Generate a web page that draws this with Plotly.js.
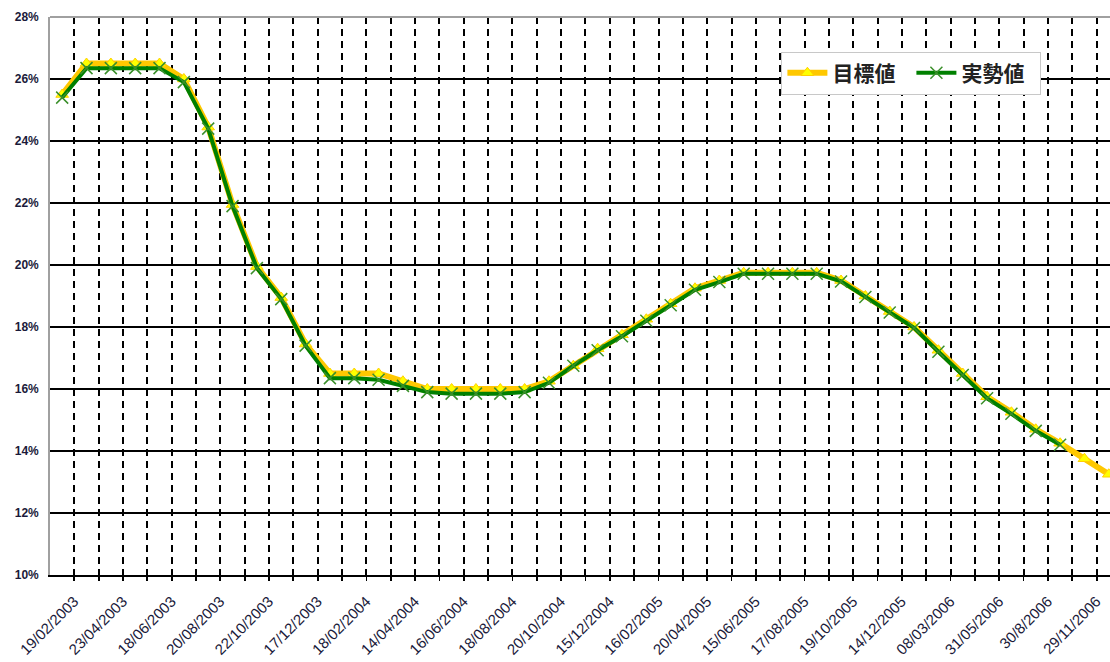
<!DOCTYPE html>
<html>
<head>
<meta charset="utf-8">
<script src="https://cdn.plot.ly/plotly-3.0.1.min.js"></script>
<style>
html, body { margin: 0; padding: 0; overflow: hidden; background: #fff; }
#chart { width: 1110px; height: 662px; }
</style>
</head>
<body>
<div id="chart"></div>
<script>
// Category labels (every other period is labelled)
var tickLabels = ["19/02/2003", "23/04/2003", "18/06/2003", "20/08/2003", "22/10/2003", "17/12/2003",
  "18/02/2004", "14/04/2004", "16/06/2004", "18/08/2004", "20/10/2004", "15/12/2004",
  "16/02/2005", "20/04/2005", "15/06/2005", "17/08/2005", "19/10/2005", "14/12/2005",
  "08/03/2006", "31/05/2006", "30/8/2006", "29/11/2006"];

// 目標値 (target), percent
var targetValues = [25.5, 26.5, 26.5, 26.5, 26.5, 26.0, 24.45, 21.95, 19.95, 18.95,
  17.45, 16.5, 16.5, 16.5, 16.25, 16.0, 16.0, 16.0, 16.0, 16.0,
  16.25, 16.75, 17.3, 17.75, 18.25, 18.75, 19.25, 19.5, 19.75, 19.75,
  19.75, 19.75, 19.5, 19.0, 18.5, 18.0, 17.25, 16.5, 15.75, 15.25,
  14.7, 14.25, 13.75, 13.25];

// 実勢値 (actual), percent
var actualValues = [25.4, 26.35, 26.35, 26.35, 26.35, 25.9, 24.4, 21.9, 19.9, 18.9,
  17.4, 16.35, 16.35, 16.3, 16.1, 15.9, 15.85, 15.85, 15.85, 15.9,
  16.2, 16.75, 17.25, 17.7, 18.2, 18.7, 19.2, 19.45, 19.72, 19.72,
  19.72, 19.72, 19.47, 18.97, 18.47, 17.97, 17.2, 16.45, 15.7, 15.2,
  14.65, 14.2];

var seriesNames = ["目標値", "実勢値"];

var xT = targetValues.map(function (v, i) { return i; });
var xA = actualValues.map(function (v, i) { return i; });
var tickPos = tickLabels.map(function (t, i) { return i * 2; });
var boundaries = targetValues.map(function (v, i) { return i + 0.5; });

var traces = [
  {
    x: xT, y: targetValues, name: seriesNames[0], type: "scatter", mode: "lines+markers",
    line: { color: "#FFC800", width: 6 },
    marker: { symbol: "triangle-up", size: 11, color: "#FFFF00", line: { color: "#FFD000", width: 1 } }
  },
  {
    x: xA, y: actualValues, name: seriesNames[1], type: "scatter", mode: "lines+markers",
    line: { color: "#008000", width: 4 },
    marker: { symbol: "x-thin-open", size: 12, color: "#3a8f2a", line: { color: "#3a8f2a", width: 1.5 } }
  }
];

var layout = {
  width: 1110, height: 662,
  margin: { l: 50, r: 0, t: 17, b: 87 },
  paper_bgcolor: "#fff", plot_bgcolor: "#fff",
  showlegend: true,
  legend: {
    orientation: "h", x: 0.69, y: 0.938, xanchor: "left", yanchor: "top",
    bgcolor: "#fff", bordercolor: "#c8c8c8", borderwidth: 1,
    font: { family: "Noto Sans CJK JP", size: 21, color: "#222", weight: "bold" },
    itemwidth: 40, tracegroupgap: 0, entrywidth: 74, entrywidthmode: "pixels"
  },
  xaxis: {
    range: [-0.5, 43.05],
    tickmode: "array", tickvals: tickPos, ticktext: tickLabels,
    tickangle: -45, ticks: "", showgrid: false, zeroline: false,
    ticklabelshift: 12, ticklabelstandoff: 10,
    tickfont: { family: "Liberation Sans, Arial", size: 15, color: "#1a1a3a" },
    showline: true, linecolor: "#000", linewidth: 1.8,
    minor: {
      tickmode: "array", tickvals: boundaries,
      showgrid: true, gridcolor: "#000", gridwidth: 2, griddash: "7px,5px",
      ticks: "outside", ticklen: 4, tickcolor: "#000", tickwidth: 1.8
    }
  },
  yaxis: {
    range: [10, 28], dtick: 2, tick0: 10, ticksuffix: "%",
    showgrid: true, gridcolor: "#000", gridwidth: 1.8, zeroline: false,
    ticks: "", ticklabelstandoff: 7,
    tickfont: { family: "Liberation Sans, Arial", size: 12, color: "#1a1a3a", weight: "bold" },
    showline: true, linecolor: "#a0a0a0", linewidth: 1.8
  },
  shapes: [
    { type: "line", xref: "paper", yref: "paper", x0: 0, x1: 1, y0: 1, y1: 1,
      line: { color: "#a0a0a0", width: 2 }, layer: "above" }
  ]
};

Plotly.newPlot("chart", traces, layout, { displayModeBar: false, staticPlot: true });
</script>
</body>
</html>
